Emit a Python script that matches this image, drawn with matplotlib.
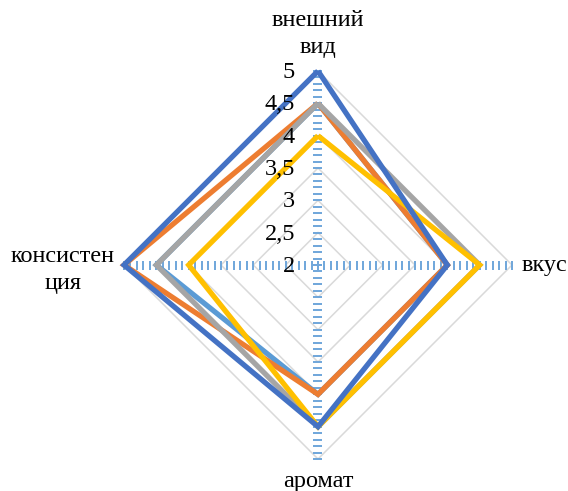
import numpy as np
import matplotlib
matplotlib.use("Agg")
import matplotlib.pyplot as plt
from matplotlib.collections import LineCollection

# Radar chart data: four quality attributes scored 2..5
categories = ["внешний\nвид", "вкус", "аромат", "консистен\nция"]
series_blue = [5, 4, 4.5, 5]
series_orange = [4.5, 4, 4, 5]
series_gray = [4.5, 4.5, 4.5, 4.5]
series_yellow = [4, 4.5, 4.5, 4]
series_lightblue = [4.5, 4, 4, 4.5]
grid_values = [2.5, 3, 3.5, 4, 4.5, 5]
tick_values = [2, 2.5, 3, 3.5, 4, 4.5, 5]
tick_labels = ["2", "2,5", "3", "3,5", "4", "4,5", "5"]
r_min, r_max = 2.0, 5.0

plt.rcParams["font.family"] = ["Liberation Serif", "DejaVu Serif"]

W, H, DPI = 568, 491, 100
cx, cy, R = 318, 265, 194  # centre and outer radius in pixels

fig = plt.figure(figsize=(W / DPI, H / DPI), dpi=DPI)
ax = fig.add_axes([0, 0, 1, 1])
ax.set_xlim(-cx / R, (W - cx) / R)
ax.set_ylim(-(H - cy) / R, cy / R)
ax.axis("off")

n = len(categories)
angles = np.pi / 2 - np.arange(n) * 2 * np.pi / n


def to_xy(values):
    rho = (np.asarray(values, dtype=float) - r_min) / (r_max - r_min)
    return rho * np.cos(angles), rho * np.sin(angles)


def closed(a):
    return np.append(a, a[0])


# polygon gridlines
for g in grid_values:
    gx, gy = to_xy([g] * n)
    ax.plot(closed(gx), closed(gy), color="#D9D9D9", lw=1.1, zorder=1)

# spoke tick marks every 0.1
minor = np.round(np.arange(r_min, r_max + 1e-9, 0.1), 2)
half = 4.5 / R
segs = []
for a in angles:
    d = np.array([np.cos(a), np.sin(a)])
    p = np.array([-d[1], d[0]])
    for v in minor:
        c = d * (v - r_min) / (r_max - r_min)
        segs.append([c - p * half, c + p * half])
ax.add_collection(LineCollection(segs, colors="#6FA6DA", linewidths=1.4, zorder=2))

# data series
series = [
    (series_lightblue, "#5B9BD5", 3),
    (series_orange, "#ED7D31", 4),
    (series_gray, "#A5A5A5", 5),
    (series_yellow, "#FFC000", 6),
    (series_blue, "#4472C4", 7),
]
for vals, col, z in series:
    sx, sy = to_xy(vals)
    ax.plot(closed(sx), closed(sy), color=col, lw=3.8, zorder=z,
            solid_joinstyle="miter", solid_capstyle="butt")

# value labels along the top spoke
fs = 17.5
for v, lab in zip(tick_values, tick_labels):
    rho = (v - r_min) / (r_max - r_min)
    ax.text(-23 / R, rho - 1.5 / R, lab, ha="right", va="center",
            fontsize=fs, color="#000000", zorder=8)

# category labels
ax.text(0, (cy - 34) / R, categories[0], ha="center", va="center",
        fontsize=fs, linespacing=1.32)
ax.text((522 - cx) / R, 0, categories[1], ha="left", va="center", fontsize=fs)
ax.text(0, (cy - 481) / R, categories[2], ha="center", va="center", fontsize=fs)
ax.text((63 - cx) / R, (cy - 270) / R, categories[3], ha="center", va="center",
        fontsize=fs, linespacing=1.32)

fig.savefig("out.png", dpi=DPI, facecolor="white")
